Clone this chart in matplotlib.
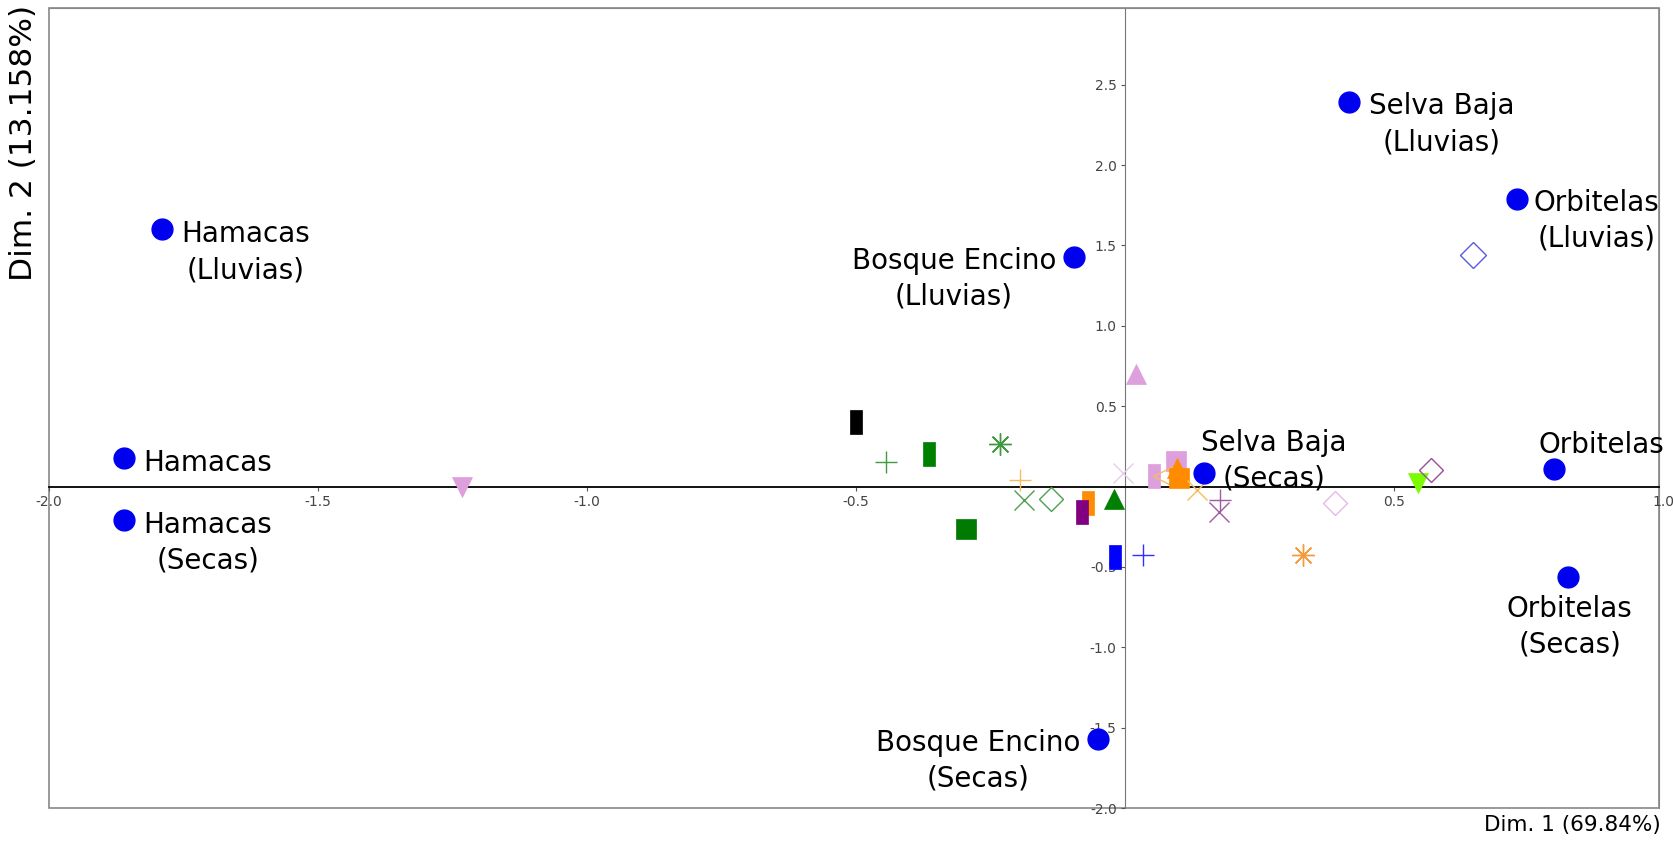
import matplotlib.pyplot as plt
from matplotlib.patches import Rectangle
from matplotlib.path import Path

# sitios (puntos azules con etiqueta)
site_names = ['Hamacas\n(Lluvias)', 'Hamacas', 'Hamacas\n(Secas)',
              'Bosque Encino\n(Lluvias)', 'Bosque Encino\n(Secas)',
              'Selva Baja\n(Lluvias)', 'Selva Baja\n(Secas)',
              'Orbitelas\n(Lluvias)', 'Orbitelas', 'Orbitelas\n(Secas)']
site_x = [-1.79, -1.86, -1.86, -0.095, -0.05, 0.417, 0.147, 0.728, 0.798, 0.823]
site_y = [1.60, 0.18, -0.21, 1.43, -1.57, 2.39, 0.084, 1.79, 0.107, -0.56]

# especies
sp_x = [-0.50, -0.444, -0.365, -0.232, -0.195, -0.188, -0.138, -0.295,
        -0.068, -0.079, -0.021, -0.019, 0.034, -0.004, 0.054, 0.095,
        0.07, 0.096, 0.10, 0.133, 0.177, 0.175, 0.02, 0.39, 0.331,
        0.545, 0.568, 0.646, -1.233]
sp_y = [0.40, 0.15, 0.20, 0.265, 0.04, -0.087, -0.079, -0.264,
        -0.104, -0.156, -0.079, -0.437, -0.427, 0.084, 0.0625, 0.156,
        0.0625, 0.115, 0.052, -0.02, -0.083, -0.156, 0.698, -0.104, -0.427,
        0.021, 0.104, 1.442, -0.005]

rect = Path([(-0.5, -1), (0.5, -1), (0.5, 1), (-0.5, 1), (-0.5, -1)],
            [1, 2, 2, 2, 79])
ast = (8, 2, 0)
# (marker, color, filled, size)
sp_style = [
    (rect, 'black', True, 17),
    ('+', '#3f9a3f', False, 16),
    (rect, '#008000', True, 17),
    (ast, '#3f9a3f', False, 16),
    ('+', '#f7bd5c', False, 16),
    ('x', '#4f9f4f', False, 15),
    ('D', '#4f9f4f', False, 12.5),
    ('s', '#007a00', True, 15),
    (rect, '#ff8c00', True, 17),
    (rect, '#800080', True, 17),
    ('^', '#008000', True, 14),
    (rect, '#0000ff', True, 17),
    ('+', '#3030ff', False, 16),
    ('x', '#e8cce8', False, 15),
    (rect, '#dda0dd', True, 17),
    ('s', '#dda0dd', True, 15),
    ('<', '#f7bd5c', False, 14),
    ('^', '#ff8c00', True, 14),
    ('s', '#ff8c00', True, 15),
    ('x', '#f7bd5c', False, 15),
    ('+', '#a05aa0', False, 16),
    ('x', '#a05aa0', False, 15),
    ('^', '#dda0dd', True, 15),
    ('D', '#e6b8e6', False, 12.5),
    (ast, '#f59a3c', False, 16),
    ('v', '#7cfc00', True, 14),
    ('D', '#9b4f96', False, 12.5),
    ('D', '#5a5ae0', False, 13.5),
    ('v', '#dda0dd', True, 14),
]

# posicion de etiquetas (pixeles) y alineacion
lab_off = [(19, 9), (19, 9), (19, 9), (-18, 10), (-18, 10),
           (20, 10), (-3, 44), (17, 10), (47, 38), (2, -18)]
lab_ha = ['left', 'left', 'left', 'right', 'right',
          'left', 'left', 'left', 'center', 'center']

fig = plt.figure(figsize=(16.73, 8.43), dpi=100)
ax = fig.add_axes([49/1673, 35/843, 1610/1673, 800.5/843])
ax.set_xlim(-2.0, 0.9926)
ax.set_ylim(-2.0, 2.98)

for x, y, (m, c, filled, s) in zip(sp_x, sp_y, sp_style):
    if filled:
        ax.plot(x, y, marker=m, ms=s, mfc=c, mec=c, mew=0.5, ls='none', zorder=3)
    else:
        ax.plot(x, y, marker=m, ms=s, mfc='none', mec=c, mew=1.0, ls='none', zorder=3)

ax.plot(site_x, site_y, 'o', ms=15, color='#0000f0', ls='none', zorder=4)
for name, x, y, off, ha in zip(site_names, site_x, site_y, lab_off, lab_ha):
    ax.annotate(name, (x, y), xytext=off, textcoords='offset pixels',
                ha=ha, va='top', multialignment='center', fontsize=20,
                linespacing=1.35, color='black', zorder=5)

# ejes cruzando en cero
ax.spines['left'].set_position(('data', 0))
ax.spines['bottom'].set_position(('data', 0))
ax.spines['left'].set_color('#777777')
ax.spines['bottom'].set_color('black')
ax.spines['bottom'].set_linewidth(1.3)
for s in ['top', 'right']:
    ax.spines[s].set_color('#888888')
ax.add_patch(Rectangle((0, 0), 1, 1, transform=ax.transAxes, fill=False,
                       ec='#888888', lw=1.2, clip_on=False, zorder=0))

ax.set_xticks([-2.0, -1.5, -1.0, -0.5, 0.5])
ax.set_yticks([-2.0, -1.5, -1.0, -0.5, 0.5, 1.0, 1.5, 2.0, 2.5])
ax.xaxis.set_major_formatter(plt.FormatStrFormatter('%.1f'))
ax.yaxis.set_major_formatter(plt.FormatStrFormatter('%.1f'))
ax.tick_params(length=3, width=0.8, color='#555555', labelcolor='#444444',
               labelsize=10, pad=3)
ax.text(1.0, -0.05, '1.0', ha='center', va='top', fontsize=10, color='#444444',
        family=['Liberation Sans Narrow', 'DejaVu Sans'], clip_on=False)
for lab in ax.get_xticklabels() + ax.get_yticklabels():
    lab.set_family(['Liberation Sans Narrow', 'DejaVu Sans'])

fig.text(23.5/1673, 1 - 5/843, 'Dim. 2 (13.158%)', rotation=90, ha='center',
         va='top', fontsize=22.5)
fig.text(1661/1673, 1 - 825/843, 'Dim. 1 (69.84%)', ha='right', va='center',
         fontsize=15.5)

fig.savefig('out.png', dpi=100)
